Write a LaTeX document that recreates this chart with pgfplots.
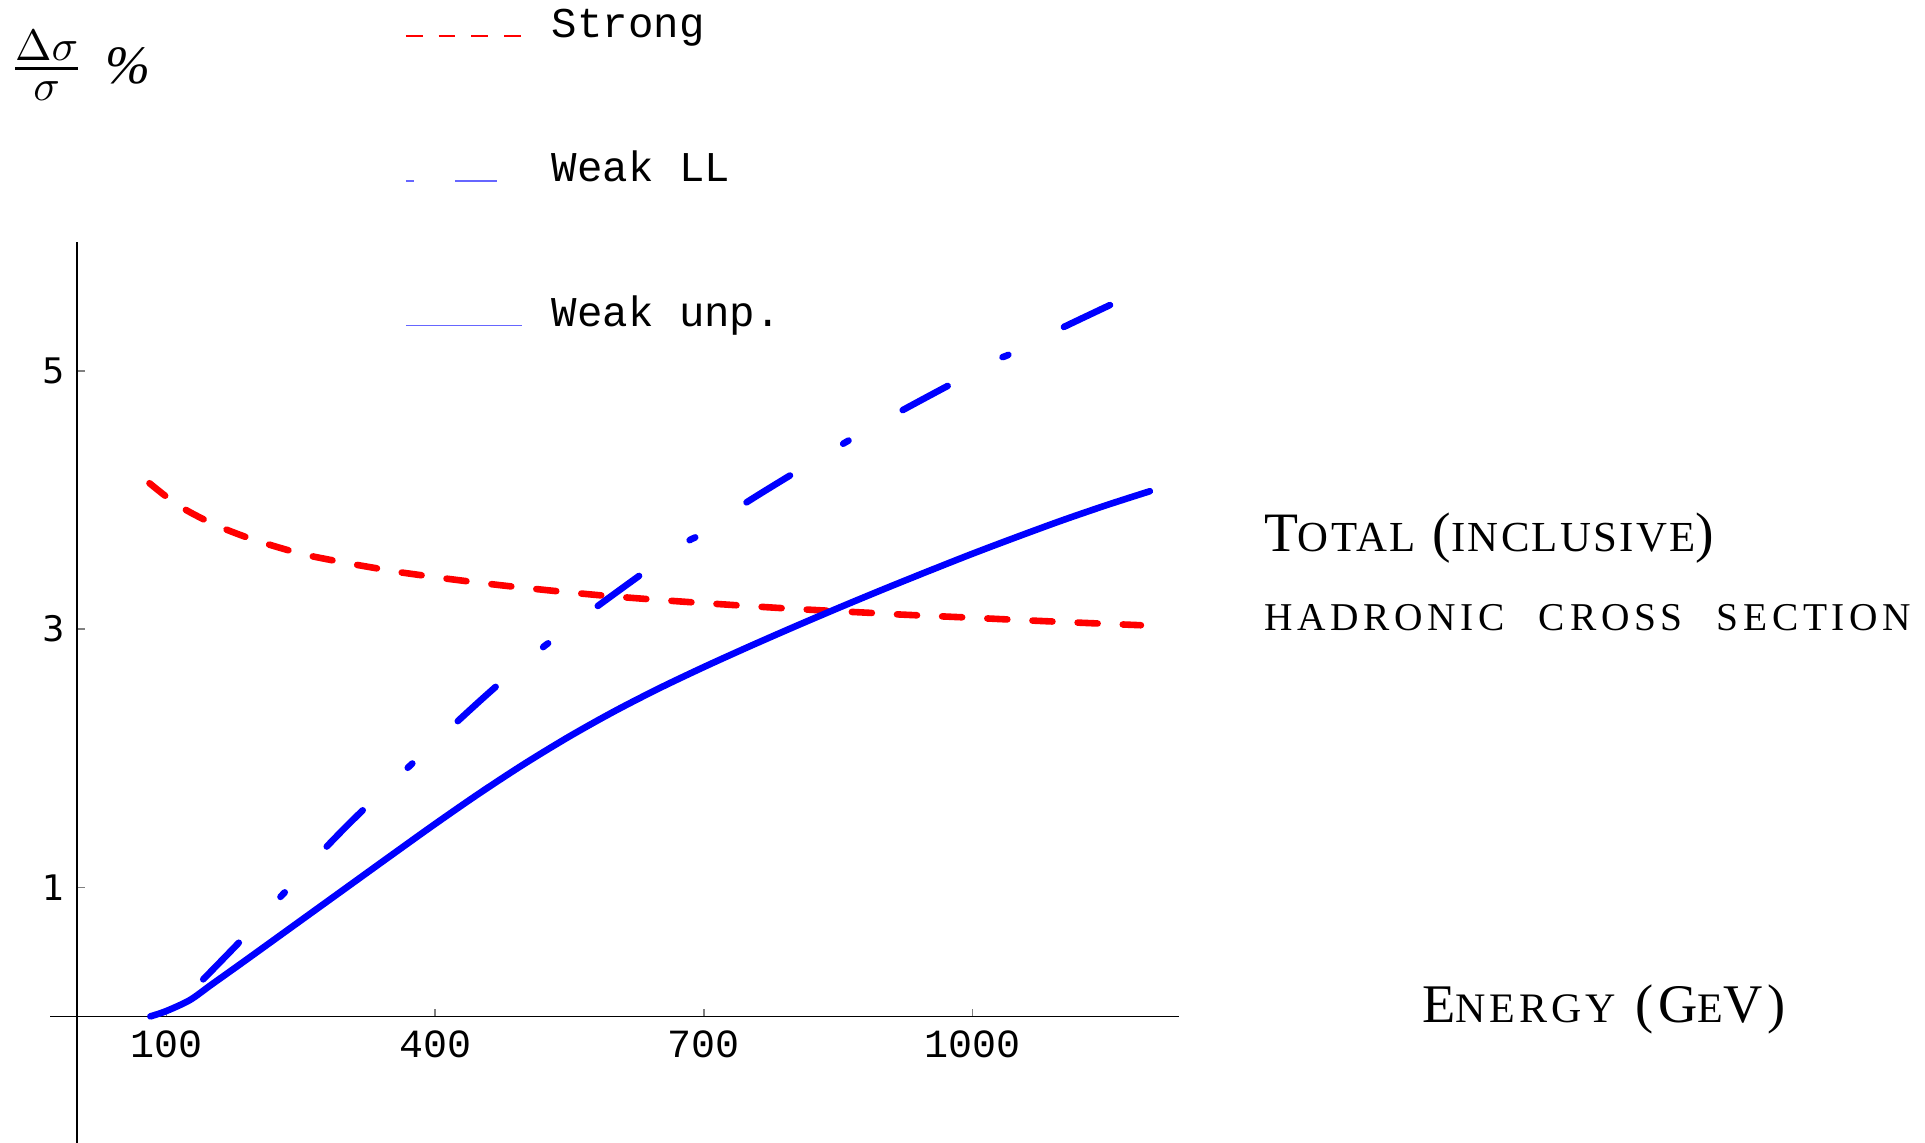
\documentclass[border=0pt]{standalone}
\usepackage{fontspec}
\usepackage{amsmath}
\setmainfont{Liberation Serif}
\newfontfamily\monofont{Liberation Mono}
\newfontfamily\sansdigits{DejaVu Sans}
\newfontfamily\capsfont[LetterSpace=5.5]{Liberation Serif}
\newfontfamily\capsenergy[LetterSpace=9.5]{Liberation Serif}
\newfontfamily\capswide[LetterSpace=12]{Liberation Serif}
\usepackage{pgfplots}
\usepackage{pgfplotstable}
\pgfplotsset{compat=1.18}

% Strong (QCD) correction
\pgfplotstableread{
x      y
81     4.130
100    4.025
120    3.930
143    3.845
165    3.776
190    3.710
212    3.660
238    3.607
260    3.568
286    3.532
308    3.503
338    3.467
359    3.442
388    3.414
409    3.394
439    3.368
459    3.351
487    3.329
509    3.313
537    3.293
584    3.262
636    3.233
684    3.209
736    3.185
788    3.162
837    3.143
885    3.126
919    3.113
993    3.090
1060   3.068
1125   3.048
1188   3.030
}\strongtab

% Weak correction, leading logarithms
\pgfplotstableread{
x      y
141    0.287
186.4  0.612
227.4  0.927
237    0.996
278.7  1.314
324    1.629
421    2.260
472    2.580
518.7  2.850
531    2.915
579.4  3.168
631.5  3.431
681.3  3.676
694.4  3.728
744.6  3.968
798.6  4.200
851.7  4.420
864    4.470
918    4.681
974.5  4.892
1028.5 5.090
1041.6 5.130
1096.5 5.322
1155   5.515
}\weakLLtab

% Weak correction, unpolarized
\pgfplotstableread{
x      y
82     0.000
100    0.042
126    0.126
150    0.245
186    0.423
241    0.698
297    0.978
350    1.243
400    1.491
450    1.731
500    1.958
550    2.169
600    2.363
650    2.541
700    2.706
750    2.863
800    3.015
850    3.163
900    3.307
950    3.447
1000   3.584
1050   3.715
1100   3.842
1150   3.961
1198   4.068
}\weakunptab

\begin{document}
\begin{tikzpicture}
\begin{axis}[
  at={(12.525pt,-285.75pt)}, anchor=south west,
  scale only axis,
  width=282.1pt, height=225.3pt,
  xmin=-30, xmax=1230,
  ymin=-0.981, ymax=6,
  axis lines=middle,
  axis line style={-, black, line width=0.35pt},
  xtick={100,400,700,1000},
  ytick={1,3,5},
  tick align=inside,
  major tick length=1.9pt,
  tick style={gray, line width=0.35pt},
  /pgf/number format/assume math mode=true,
  /pgf/number format/1000 sep={},
  xticklabel style={font=\monofont\fontsize{10}{12}\selectfont, anchor=north, inner sep=0pt, yshift=-3.5pt},
  yticklabel style={font=\sansdigits\fontsize{8.8}{10}\selectfont, anchor=east, inner sep=0pt, xshift=-2.8pt},
  legend cell align=left,
  legend image code/.code={\draw[#1] (0pt,-2.25pt) -- (29pt,-2.25pt);},
  legend style={at={(0.31455,1.2627)}, anchor=north west, draw=none, fill=none,
    inner sep=0pt, outer sep=0pt, row sep=25.2pt, column sep=7.3pt,
    font=\monofont\fontsize{10.6}{12}\selectfont,
    nodes={inner sep=0pt, text height=8pt, text depth=3pt}},
]
\addlegendimage{red, line width=0.4pt, dash pattern=on 4.2pt off 4pt}
\addlegendentry{Strong}
\addlegendimage{blue!60, line width=0.4pt, dash pattern=on 2.1pt off 10.2pt on 10.6pt off 12pt}
\addlegendentry{Weak LL}
\addlegendimage{blue!60, line width=0.4pt}
\addlegendentry{Weak unp.}

\addplot[forget plot, red, line width=1.65pt, line cap=round, smooth, tension=0.5,
  dash pattern=on 5pt off 6.3pt] table {\strongtab};
\addplot[forget plot, blue, line width=1.65pt, line cap=round, smooth, tension=0.5,
  dash pattern=on 12.75pt off 15.5pt on 1.55pt off 15.55pt] table {\weakLLtab};
\addplot[forget plot, blue, line width=1.65pt, line cap=round, line join=round, smooth, tension=0.5]
  table {\weakunptab};
\end{axis}

% vertical axis label
\node[anchor=base west, inner sep=0pt] at (2.4pt,-19.85pt)
  {\fontsize{11.3}{13}\selectfont$\genfrac{}{}{0.7pt}{1}{\textstyle\Delta\sigma\rule[-1pt]{0pt}{1pt}}{\textstyle\rule{0pt}{6.9pt}\sigma}$};
\node[anchor=base west, inner sep=0pt] at (26.2pt,-20.8pt)
  {\fontsize{13.5}{15}\selectfont\itshape\%};

% panel description
\node[anchor=base west, inner sep=0pt] at (315.8pt,-137.9pt)
  {\capsfont\fontsize{13.9}{16}\selectfont T{\fontsize{10.7}{12}\selectfont OTAL} ({\fontsize{10.7}{12}\selectfont INCLUSIVE})};
\node[anchor=base west, inner sep=0pt] at (315.8pt,-157.5pt)
  {\capswide\fontsize{9.85}{12}\selectfont HADRONIC\hspace{8.5pt}CROSS\hspace{8.5pt}SECTION};

% horizontal axis label
\node[anchor=base west, inner sep=0pt] at (355.4pt,-255.7pt)
  {\capsenergy\fontsize{13.6}{16}\selectfont E{\fontsize{10.5}{12}\selectfont NERGY} (G{\fontsize{10.5}{12}\selectfont E}V)};

\pgfresetboundingbox
\path[use as bounding box] (0pt,0pt) rectangle (481.25pt,-285.75pt);
\end{tikzpicture}
\end{document}
